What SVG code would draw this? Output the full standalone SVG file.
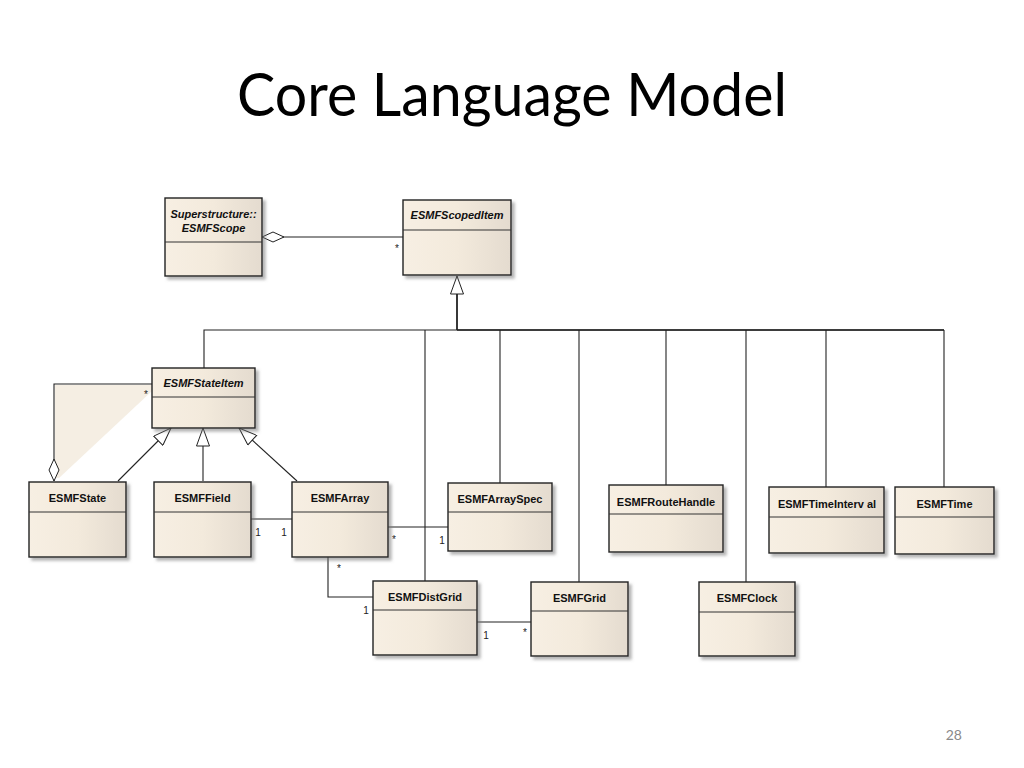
<svg xmlns="http://www.w3.org/2000/svg" width="1024" height="768" viewBox="0 0 1024 768">
<defs>
<linearGradient id="g" x1="0" y1="0" x2="1" y2="0">
<stop offset="0" stop-color="#f7efe3"/>
<stop offset="0.5" stop-color="#f3eadc"/>
<stop offset="1" stop-color="#e4dbcf"/>
</linearGradient>
<filter id="sh" x="-10%" y="-10%" width="130%" height="130%">
<feDropShadow dx="3" dy="3" stdDeviation="1.5" flood-color="#777" flood-opacity="0.55"/>
</filter>
<marker id="gen" viewBox="0 0 20 14" refX="19" refY="7" markerWidth="20" markerHeight="14" markerUnits="userSpaceOnUse" orient="auto">
<path d="M1,0.5 L19,7 L1,13.5 Z" fill="#fff" stroke="#222" stroke-width="1"/>
</marker>
<marker id="agg" viewBox="0 0 24 12" refX="23" refY="6" markerWidth="24" markerHeight="12" markerUnits="userSpaceOnUse" orient="auto">
<path d="M1,6 L12,1 L23,6 L12,11 Z" fill="#fff" stroke="#222" stroke-width="1"/>
</marker>
</defs>
<style>
.box{fill:url(#g);stroke:#222;stroke-width:1.4;filter:url(#sh)}
.div{stroke:#333;stroke-width:1}
.nm{font-family:"Liberation Sans",Arial,sans-serif;font-size:11px;font-weight:bold;fill:#111;text-anchor:middle}
.it{font-style:italic}
.ln{fill:none;stroke:#222;stroke-width:1.1}
.lb{font-family:"Liberation Sans",Arial,sans-serif;font-size:10px;fill:#222;text-anchor:middle}
</style>
<rect width="1024" height="768" fill="#fff"/>
<text x="512" y="116" font-family="Lato, 'Open Sans', sans-serif" font-size="60" fill="#000" text-anchor="middle" textLength="550" lengthAdjust="spacingAndGlyphs">Core Language Model</text>
<text x="962" y="740" font-family="Lato, 'Open Sans', sans-serif" font-size="14" fill="#8a8a8a" text-anchor="end">28</text>

<polygon points="55,385 152,385 152,391 59,478 55,478" fill="#f5eee3"/>

<g id="connectors">
<path class="ln" d="M403,237 H262" marker-end="url(#agg)"/>
<text class="lb" x="397" y="252">*</text>
<path class="ln" d="M204,368 V330 H944"/>
<path d="M457,330 H944" stroke="#222" stroke-width="1.4" fill="none"/>
<path d="M457,330 V276" stroke="#222" stroke-width="1.8" fill="none" marker-end="url(#gen)"/>
<path class="ln" d="M425,330 V581"/>
<path class="ln" d="M500,330 V483"/>
<path class="ln" d="M579,330 V582"/>
<path class="ln" d="M666,330 V485"/>
<path class="ln" d="M746,330 V582"/>
<path class="ln" d="M826,330 V487"/>
<path class="ln" d="M944,330 V487"/>
<path class="ln" d="M152,384 H54 V481" marker-end="url(#agg)"/>
<text class="lb" x="146" y="398">*</text>
<path class="ln" d="M118,481 L171,428" marker-end="url(#gen)"/>
<path class="ln" d="M203,481 V428" marker-end="url(#gen)"/>
<path class="ln" d="M297,481 L239,428" marker-end="url(#gen)"/>
<path class="ln" d="M251,519 H292"/>
<text class="lb" x="258" y="536">1</text>
<text class="lb" x="284" y="536">1</text>
<path class="ln" d="M388,527 H448"/>
<text class="lb" x="394" y="543">*</text>
<text class="lb" x="442" y="544">1</text>
<path class="ln" d="M328,557 V597 H373"/>
<text class="lb" x="339" y="572">*</text>
<text class="lb" x="366" y="614">1</text>
<path class="ln" d="M477,622 H531"/>
<text class="lb" x="486" y="639">1</text>
<text class="lb" x="525" y="636">*</text>
</g>

<g id="ESMFScope">
<rect class="box" x="165" y="198" width="97" height="78"/>
<line class="div" x1="165" y1="242" x2="262" y2="242"/>
<text class="nm it" x="213.5" y="218">Superstructure::</text>
<text class="nm it" x="213.5" y="232">ESMFScope</text>
</g>
<g id="ESMFScopedItem">
<rect class="box" x="403" y="200" width="108" height="75"/>
<line class="div" x1="403" y1="230" x2="511" y2="230"/>
<text class="nm it" x="457" y="219">ESMFScopedItem</text>
</g>
<g id="ESMFStateItem">
<rect class="box" x="152" y="368" width="103" height="60"/>
<line class="div" x1="152" y1="397" x2="255" y2="397"/>
<text class="nm it" x="203.5" y="387">ESMFStateItem</text>
</g>
<g id="ESMFState">
<rect class="box" x="29" y="482" width="97" height="75"/>
<line class="div" x1="29" y1="512" x2="126" y2="512"/>
<text class="nm" x="77.5" y="502">ESMFState</text>
</g>
<g id="ESMFField">
<rect class="box" x="154" y="482" width="97" height="75"/>
<line class="div" x1="154" y1="512" x2="251" y2="512"/>
<text class="nm" x="202.5" y="502">ESMFField</text>
</g>
<g id="ESMFArray">
<rect class="box" x="292" y="482" width="96" height="75"/>
<line class="div" x1="292" y1="512" x2="388" y2="512"/>
<text class="nm" x="340" y="502">ESMFArray</text>
</g>
<g id="ESMFArraySpec">
<rect class="box" x="448" y="483" width="104" height="68"/>
<line class="div" x1="448" y1="512" x2="552" y2="512"/>
<text class="nm" x="500" y="503">ESMFArraySpec</text>
</g>
<g id="ESMFRouteHandle">
<rect class="box" x="609" y="485" width="114" height="67"/>
<line class="div" x1="609" y1="514" x2="723" y2="514"/>
<text class="nm" x="666" y="506">ESMFRouteHandle</text>
</g>
<g id="ESMFTimeInterval">
<rect class="box" x="769" y="487" width="115" height="66"/>
<line class="div" x1="769" y1="517" x2="884" y2="517"/>
<text class="nm" x="827" y="508">ESMFTimeInterv al</text>
</g>
<g id="ESMFTime">
<rect class="box" x="895" y="487" width="99" height="67"/>
<line class="div" x1="895" y1="517" x2="994" y2="517"/>
<text class="nm" x="944.5" y="508">ESMFTime</text>
</g>
<g id="ESMFDistGrid">
<rect class="box" x="373" y="581" width="104" height="74"/>
<line class="div" x1="373" y1="610" x2="477" y2="610"/>
<text class="nm" x="425" y="601">ESMFDistGrid</text>
</g>
<g id="ESMFGrid">
<rect class="box" x="531" y="582" width="97" height="74"/>
<line class="div" x1="531" y1="611" x2="628" y2="611"/>
<text class="nm" x="579.5" y="602">ESMFGrid</text>
</g>
<g id="ESMFClock">
<rect class="box" x="699" y="582" width="96" height="74"/>
<line class="div" x1="699" y1="612" x2="795" y2="612"/>
<text class="nm" x="747" y="602">ESMFClock</text>
</g>
</svg>
